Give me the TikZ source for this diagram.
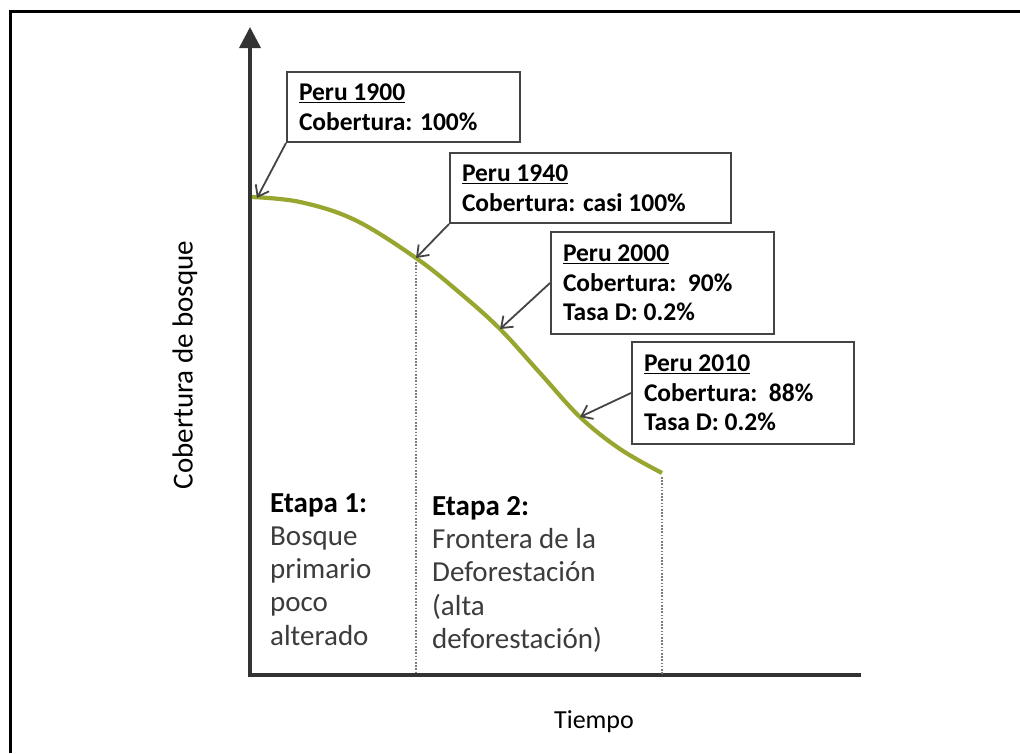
\documentclass[tikz,border=0pt]{standalone}
\usepackage{fontspec}
\setmainfont{Carlito}
\usetikzlibrary{arrows.meta}
\definecolor{axisgray}{HTML}{333333}
\definecolor{arrowgray}{HTML}{444444}
\definecolor{curveolive}{RGB}{152,166,48}
\definecolor{txtgray}{HTML}{3C3C3C}
\definecolor{dotgray}{HTML}{7A7A80}
\tikzset{
  infobox/.style={draw=arrowgray, line width=2pt, anchor=north west, align=flush left,
    inner xsep=12pt, inner ysep=0pt, text=black,
    font=\fontsize{25.5}{29.5}\selectfont\bfseries},
  pointer/.style={draw=arrowgray, line width=1.8pt, -{Straight Barb[length=10pt,width=15pt]}},
  axisline/.style={draw=axisgray, line width=3.5pt},
  divider/.style={draw=dotgray, line width=2.2pt, dash pattern=on 1.6pt off 1.6pt},
  stagetxt/.style={anchor=north west, align=left, inner sep=0pt, text=txtgray,
    font=\fontsize{29}{33.3}\selectfont},
}
\begin{document}
\begin{tikzpicture}[x=1pt,y=-1pt]
\useasboundingbox[fill=white] (0,0) rectangle (1020,753);
% outer frame (top and left only)
\draw[line width=3pt] (10,753) -- (10,11) -- (1020,11);
% axes
\coordinate (origin) at (250,675);
\coordinate (ytop) at (250,27);
\coordinate (xend) at (861,675);
\draw[axisline, -{Triangle[length=21pt,width=21pt]}] (origin) ++(0,2) -- (ytop);
\draw[axisline] (origin) ++(-2,0) -- (xend);
% curve
\coordinate (c1900) at (257,198);
\coordinate (c1940) at (416,258);
\coordinate (c2000) at (500,329);
\coordinate (c2010) at (580,417);
\coordinate (cend) at (662,473);
\coordinate (d1t) at (416,262);
\coordinate (d2t) at (662,477);
\draw[curveolive, line width=4.2pt] plot[smooth, tension=0.6] coordinates
  {(252,197) (300,202) (355,220) (416,258) (460,293) (500,329) (540,373) (580,417) (620,449) (662,473)};
% dotted dividers
\coordinate (d1b) at (416,674);
\coordinate (d2b) at (662,674);
\draw[divider] (d1t) -- (d1b);
\draw[divider] (d2t) -- (d2b);
% boxes
\node[infobox, minimum width=233pt, text width=209pt, minimum height=70pt] (b1900) at (286,71)
  {\underline{Peru 1900}\\Cobertura: 100\%};
\node[infobox, minimum width=281pt, text width=257pt, minimum height=70pt] (b1940) at (449,152)
  {\underline{Peru 1940}\\Cobertura: casi 100\%};
\node[infobox, minimum width=223pt, text width=199pt, minimum height=102pt] (b2000) at (550,231)
  {\underline{Peru 2000}\\Cobertura:\ \ 90\%\\Tasa D: 0.2\%};
\node[infobox, minimum width=222pt, text width=198pt, minimum height=102pt] (b2010) at (631,341)
  {\underline{Peru 2010}\\Cobertura:\ \ 88\%\\Tasa D: 0.2\%};
% pointers
\draw[pointer] (b1900.south west) -- (c1900);
\draw[pointer] (b1940.south west) -- (c1940);
\draw[pointer] (b2000.west) -- (c2000);
\draw[pointer] (b2010.west) -- (c2010);
% stage texts
\node[stagetxt] (etapa1) at (270,493)
  {\textcolor{black}{\bfseries Etapa 1:}\\Bosque\\primario\\poco\\alterado};
\node[stagetxt] (etapa2) at (432,496)
  {\textcolor{black}{\bfseries Etapa 2:}\\Frontera de la\\Deforestación\\(alta\\deforestación)};
% axis labels
\node[rotate=90, font=\fontsize{29}{33}\selectfont] (ylab) at (185,365) {Cobertura de bosque};
\node[font=\fontsize{26}{30}\selectfont, anchor=base] (xlab) at (594,728) {Tiempo};
\end{tikzpicture}
\end{document}
